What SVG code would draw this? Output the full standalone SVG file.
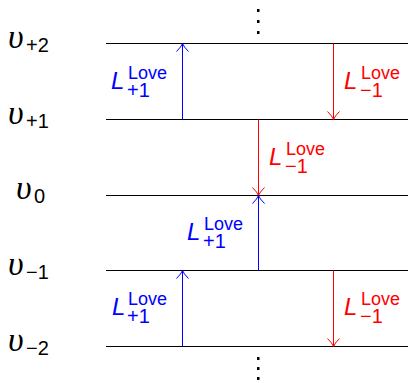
<svg xmlns="http://www.w3.org/2000/svg" width="408" height="383" viewBox="0 0 408 383">
<style>
.lvl{stroke:#000;stroke-width:1;fill:none}
.up{stroke:#0000ff;stroke-width:1;fill:none}
.dn{stroke:#ff0000;stroke-width:1;fill:none}
.u{font-family:"Liberation Serif",serif;font-style:italic;font-size:34px;fill:#000}
.us{font-family:"Liberation Sans",sans-serif;font-size:20px;fill:#000}
.L{font-family:"Liberation Sans",sans-serif;font-style:italic;font-size:24px}
.sup{font-family:"Liberation Sans",sans-serif;font-size:18px}
.sub{font-family:"Liberation Sans",sans-serif;font-size:20px}
.b{fill:#0000ff}
.r{fill:#ff0000}
.dot{fill:#000}
</style>
<defs>
<marker id="hb" markerUnits="userSpaceOnUse" markerWidth="20" markerHeight="20" refX="0" refY="0" viewBox="-10 -10 20 20" orient="auto" overflow="visible">
<path d="M-8,-6 Q-3,-1 0,0 Q-3,1 -8,6" fill="none" stroke="#0000ff" stroke-width="1"/>
</marker>
<marker id="hr" markerUnits="userSpaceOnUse" markerWidth="20" markerHeight="20" refX="0" refY="0" viewBox="-10 -10 20 20" orient="auto" overflow="visible">
<path d="M-8,-6 Q-3,-1 0,0 Q-3,1 -8,6" fill="none" stroke="#ff0000" stroke-width="1"/>
</marker>
</defs>

<g id="levels">
<line class="lvl" x1="106" y1="43.5" x2="408" y2="43.5"/>
<line class="lvl" x1="106" y1="119.5" x2="408" y2="119.5"/>
<line class="lvl" x1="106" y1="195.5" x2="408" y2="195.5"/>
<line class="lvl" x1="106" y1="270.5" x2="408" y2="270.5"/>
<line class="lvl" x1="106" y1="346.5" x2="408" y2="346.5"/>
</g>

<g id="level-labels">
<g id="v_p2"><text class="u" x="8" y="48">υ</text><text class="us" x="26" y="52">+2</text></g>
<g id="v_p1"><text class="u" x="8" y="124">υ</text><text class="us" x="26" y="128">+1</text></g>
<g id="v_0"><text class="u" x="16" y="199">υ</text><text class="us" x="34" y="203">0</text></g>
<g id="v_m1"><text class="u" x="8" y="275">υ</text><text class="us" x="26" y="279">−1</text></g>
<g id="v_m2"><text class="u" x="8" y="351">υ</text><text class="us" x="26" y="355">−2</text></g>
</g>

<g id="dots">
<rect class="dot" x="257" y="9" width="2.5" height="3"/>
<rect class="dot" x="257" y="20" width="2.5" height="3"/>
<rect class="dot" x="257" y="31" width="2.5" height="3"/>
<rect class="dot" x="257" y="357" width="2.5" height="3"/>
<rect class="dot" x="257" y="367" width="2.5" height="3"/>
<rect class="dot" x="257" y="377" width="2.5" height="3"/>
</g>

<g id="connectors">
<line class="up" x1="182.5" y1="119.5" x2="182.5" y2="43.5" marker-end="url(#hb)"/>
<line class="dn" x1="333.5" y1="43.5" x2="333.5" y2="119.5" marker-end="url(#hr)"/>
<line class="dn" x1="258.5" y1="119.5" x2="258.5" y2="195.5" marker-end="url(#hr)"/>
<line class="up" x1="258.5" y1="270.5" x2="258.5" y2="195.5" marker-end="url(#hb)"/>
<line class="up" x1="182.5" y1="346.5" x2="182.5" y2="270.5" marker-end="url(#hb)"/>
<line class="dn" x1="333.5" y1="270.5" x2="333.5" y2="346.5" marker-end="url(#hr)"/>
</g>

<g id="label-up-top" class="b">
<text class="L" x="111" y="89">L</text><text class="sup" x="128" y="79">Love</text><text class="sub" x="127" y="97">+1</text>
</g>
<g id="label-dn-top" class="r">
<text class="L" x="344" y="89">L</text><text class="sup" x="361" y="79">Love</text><text class="sub" x="360" y="97">−1</text>
</g>
<g id="label-dn-mid" class="r">
<text class="L" x="269" y="165">L</text><text class="sup" x="286" y="155">Love</text><text class="sub" x="285" y="173">−1</text>
</g>
<g id="label-up-mid" class="b">
<text class="L" x="187" y="240">L</text><text class="sup" x="204" y="230">Love</text><text class="sub" x="203" y="248">+1</text>
</g>
<g id="label-up-bot" class="b">
<text class="L" x="112" y="315">L</text><text class="sup" x="128" y="305">Love</text><text class="sub" x="127" y="323">+1</text>
</g>
<g id="label-dn-bot" class="r">
<text class="L" x="344" y="315">L</text><text class="sup" x="361" y="305">Love</text><text class="sub" x="360" y="323">−1</text>
</g>
</svg>
